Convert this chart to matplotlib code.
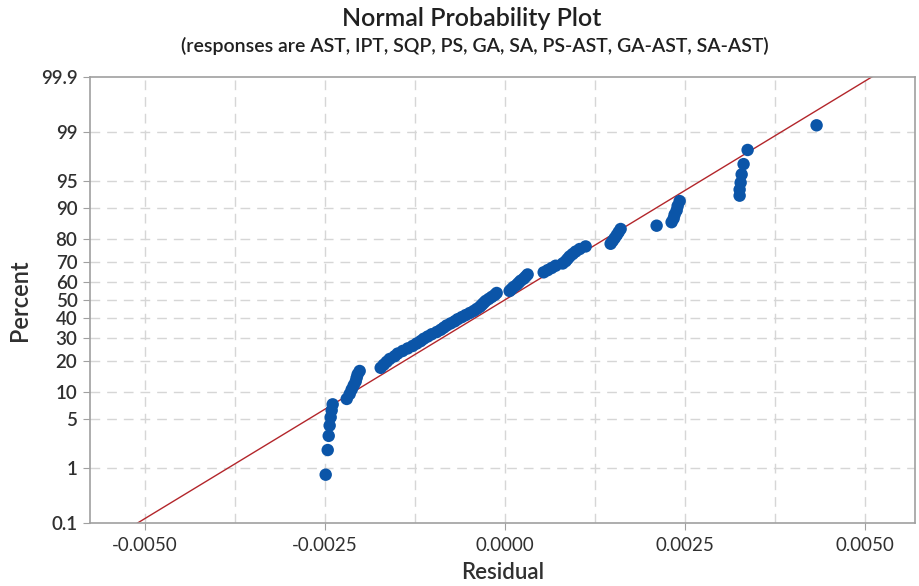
import math
import numpy as np
import matplotlib
matplotlib.use("Agg")
import matplotlib.pyplot as plt
from matplotlib.ticker import FixedLocator, FuncFormatter

# ---------------- data ----------------
residuals = [
    -0.002486, -0.002458, -0.002444, -0.002431, -0.002417, -0.002403, -0.002389,
    -0.002194, -0.002153, -0.002125, -0.002097, -0.002069, -0.002056, -0.002042,
    -0.002014, -0.001722, -0.001681, -0.001639, -0.001597, -0.001528, -0.001486,
    -0.001417, -0.001347, -0.001278, -0.001222, -0.001167, -0.001125, -0.001069,
    -0.001014, -0.000944, -0.000889, -0.000847, -0.000806, -0.000750, -0.000694,
    -0.000653, -0.000597, -0.000542, -0.000486, -0.000431, -0.000389, -0.000347,
    -0.000319, -0.000292, -0.000264, -0.000222, -0.000181, -0.000139, -0.000111,
    0.000069, 0.000097, 0.000125, 0.000167, 0.000194, 0.000222, 0.000264,
    0.000292, 0.000319, 0.000542, 0.000597, 0.000653, 0.000708, 0.000806,
    0.000847, 0.000875, 0.000903, 0.000944, 0.000986, 0.001042, 0.001125,
    0.001472, 0.001500, 0.001528, 0.001556, 0.001583, 0.001611, 0.002111,
    0.002319, 0.002347, 0.002361, 0.002389, 0.002403, 0.002431, 0.003264,
    0.003264, 0.003278, 0.003292, 0.003319, 0.003375, 0.004333,
]
fit_mean = 0.0        # fitted normal line (location)
fit_sd = 0.00165      # fitted normal line (scale)

percent_ticks = [0.1, 1, 5, 10, 20, 30, 40, 50, 60, 70, 80, 90, 95, 99, 99.9]
percent_tick_labels = ["0.1", "1", "5", "10", "20", "30", "40", "50", "60",
                       "70", "80", "90", "95", "99", "99.9"]
residual_ticks = [-0.005, -0.0025, 0.0, 0.0025, 0.005]
residual_tick_labels = ["-0.0050", "-0.0025", "0.0000", "0.0025", "0.0050"]
residual_minor = [-0.00375, -0.00125, 0.00125, 0.00375]

title = "Normal Probability Plot"
subtitle = "(responses are AST, IPT, SQP, PS, GA, SA, PS-AST, GA-AST, SA-AST)"

# ---------------- normal probability helpers ----------------
_a = [-3.969683028665376e+01, 2.209460984245205e+02, -2.759285104469687e+02,
      1.383577518672690e+02, -3.066479806614716e+01, 2.506628277459239e+00]
_b = [-5.447609879822406e+01, 1.615858368580409e+02, -1.556989798598866e+02,
      6.680131188771972e+01, -1.328068155288572e+01]
_c = [-7.784894002430293e-03, -3.223964580411365e-01, -2.400758277161838e+00,
      -2.549671010422779e+00, 4.374664141464968e+00, 2.938163982698783e+00]
_d = [7.784695709041462e-03, 3.224671290700398e-01, 2.445134137142996e+00,
      3.754408661907416e+00]


def _ppf_scalar(p):
    p = min(max(p, 1e-12), 1 - 1e-12)
    plow = 0.02425
    if p < plow:
        q = math.sqrt(-2 * math.log(p))
        return (((((_c[0]*q+_c[1])*q+_c[2])*q+_c[3])*q+_c[4])*q+_c[5]) / \
               ((((_d[0]*q+_d[1])*q+_d[2])*q+_d[3])*q+1)
    if p > 1 - plow:
        q = math.sqrt(-2 * math.log(1 - p))
        return -(((((_c[0]*q+_c[1])*q+_c[2])*q+_c[3])*q+_c[4])*q+_c[5]) / \
                ((((_d[0]*q+_d[1])*q+_d[2])*q+_d[3])*q+1)
    q = p - 0.5
    r = q * q
    return (((((_a[0]*r+_a[1])*r+_a[2])*r+_a[3])*r+_a[4])*r+_a[5])*q / \
           (((((_b[0]*r+_b[1])*r+_b[2])*r+_b[3])*r+_b[4])*r+1)


def pct_to_z(pct):
    arr = np.asarray(pct, dtype=float)
    out = np.array([_ppf_scalar(v / 100.0) for v in arr.ravel()])
    return out.reshape(arr.shape)


def z_to_pct(z):
    arr = np.asarray(z, dtype=float)
    out = np.array([50.0 * (1 + math.erf(v / math.sqrt(2))) for v in arr.ravel()])
    return out.reshape(arr.shape)


# plotting positions (Minitab-style median ranks) for sorted residuals
res_sorted = np.sort(np.array(residuals))
n = len(res_sorted)
ranks = np.arange(1, n + 1)
percents = (ranks - 0.3) / (n + 0.4) * 100.0

# ---------------- figure ----------------
plt.rcParams["font.family"] = ["Lato", "DejaVu Sans"]
fig = plt.figure(figsize=(9.2, 5.86), dpi=100)
ax = fig.add_axes([90 / 920, 1 - 523 / 586, (915 - 90) / 920, (523 - 77) / 586])
ax.set_yscale("function", functions=(pct_to_z, z_to_pct))

grid_col = "#d6d6d6"
for yv in percent_ticks[1:-1]:
    ax.axhline(yv, color=grid_col, lw=1.0, ls=(0, (7, 5)), zorder=0)
for xv in residual_ticks + residual_minor:
    ax.axvline(xv, color=grid_col, lw=1.0, ls=(0, (7, 5)), zorder=0)

# fitted line
zline = np.linspace(-3.6, 3.6, 50)
ax.plot(fit_mean + fit_sd * zline, z_to_pct(zline), color="#b3262b", lw=1.0,
        zorder=2)

ax.scatter(res_sorted, percents, s=80, color="#0b55a8", edgecolors="none",
           zorder=3)

ax.set_ylim(0.1, 99.9)
ax.set_xlim(-0.00576, 0.00570)

ax.yaxis.set_major_locator(FixedLocator(percent_ticks))
ax.yaxis.set_major_formatter(FuncFormatter(
    lambda v, pos: percent_tick_labels[pos] if pos is not None and pos < len(percent_tick_labels) else ""))
ax.yaxis.set_minor_locator(FixedLocator([]))
ax.set_xticks(residual_ticks)
ax.set_xticklabels(residual_tick_labels)
ax.set_xticks(residual_minor, minor=True)

for sp in ax.spines.values():
    sp.set_color("#a0a0a0")
    sp.set_linewidth(1.2)
ax.tick_params(axis="both", which="major", length=5, color="#a0a0a0",
               labelcolor="#303030", pad=3)
ax.tick_params(axis="y", labelsize=13.5, pad=4)
ax.tick_params(axis="x", labelsize=13.5, pad=5)
ax.tick_params(axis="x", which="minor", length=0)
for lab in ax.get_yticklabels():
    lab.set_fontweight("semibold")

ax.set_xlabel("Residual", fontsize=16, fontweight="semibold", color="#303030",
              labelpad=6)
ax.set_ylabel("Percent", fontsize=17, fontweight="semibold", color="#303030",
              labelpad=7)

fig.text(472 / 920, 1 - 19 / 586, title, ha="center", va="center", fontsize=18,
         fontweight="semibold", color="#202020")
fig.text(475 / 920, 1 - 46 / 586, subtitle, ha="center", va="center",
         fontsize=14, fontweight="semibold", color="#202020")

fig.savefig("out.png", dpi=100)
